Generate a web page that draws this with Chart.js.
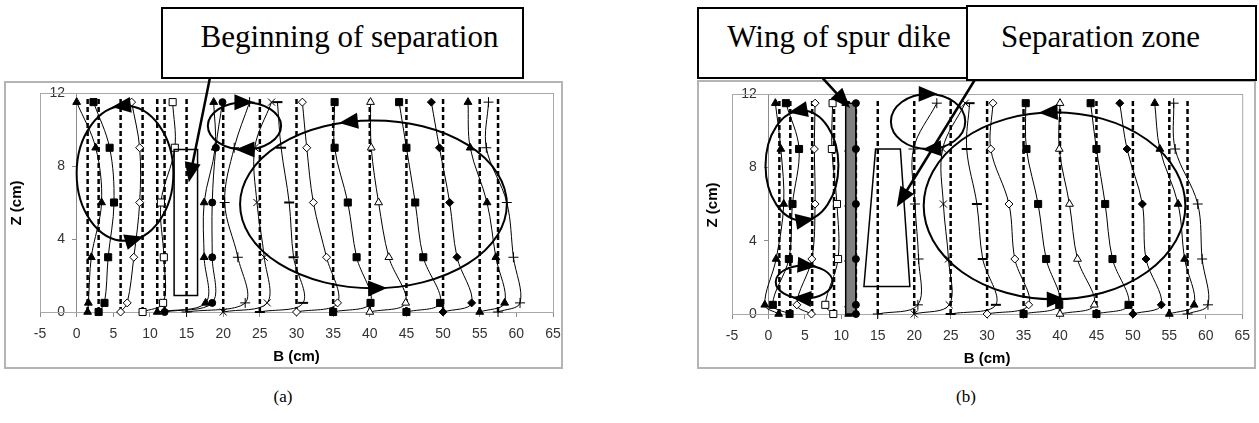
<!DOCTYPE html>
<html lang="en">
<head>
<meta charset="UTF-8">
<title>Flow pattern around the spur dike</title>
<script src="https://cdn.jsdelivr.net/npm/chart.js"></script>
<style>
  body { margin:0; width:1259px; height:423px; background:#fff; position:relative; overflow:hidden; font-family:"Liberation Sans", Arial, sans-serif; }
  .frame { position:absolute; border:2px solid #b4b4b4; box-sizing:border-box; }
  canvas.plot { position:absolute; top:0; z-index:1; }
  .note { position:absolute; background:#fff; border:2px solid #000; box-sizing:border-box; font-family:"Liberation Serif", "Times New Roman", serif; font-size:31px; display:flex; align-items:center; justify-content:center; z-index:2; white-space:nowrap; }
  .cap { position:absolute; font-family:"Liberation Serif", serif; font-size:17px; width:40px; text-align:center; }
</style>
</head>
<body>
  <div class="frame" style="left:4px; top:81px; width:559px; height:288px;"></div>
  <div class="frame" style="left:697px; top:80px; width:559px; height:289px;"></div>

  <canvas id="chartA" class="plot" width="630" height="423" style="left:0"></canvas>
  <canvas id="chartB" class="plot" width="629" height="423" style="left:630px"></canvas>

  <div class="note" style="left:161px; top:7px; width:363px; height:72px; padding:0 0 12px 14px;">Beginning of separation</div>
  <div class="note" style="left:697px; top:7px; width:272px; height:72px; padding:0 0 12px 12px;">Wing of spur dike</div>
  <div class="note" style="left:966px; top:5px; width:291px; height:76px; padding:0 22px 12px 0;">Separation zone</div>

  <div class="cap" style="left:263px; top:387px;">(a)</div>
  <div class="cap" style="left:946px; top:387px;">(b)</div>

<script>
// measuring levels (cm above the bed)
const zLevels = [0, 0.5, 3, 6, 9, 11.5];

// marker per profile, same order in both panels
const markers = ['triangle', 'rect', 'rectRot', 'rect', 'triangle', 'circle', 'cross', 'crossRot',
                 'line', 'rectRot', 'rect', 'triangle', 'rect', 'rectRot', 'triangle', 'cross'];
const filled = [true, true, false, false, true, true, true, true,
                true, false, true, false, true, true, true, true];

// (a) without wing: stations (dashed) and profile positions B at each z level
const stationsA = [1.5, 3, 6, 9, 11, 12, 15, 20, 25, 30, 35, 40, 45, 50, 55, 57.5];
const profilesA = [
  [1.5, 1.6, 2.0, 3.4, 2.6, 0],
  [3, 3.8, 4.3, 5.1, 4.5, 2.3],
  [6, 6.9, 7.8, 8.6, 8.6, 7.5],
  [9, 11.8, 11.9, 11.5, 13.4, 13.1],
  [11, 17.6, 17.4, 17.4, 18.9, 18.7],
  [12, 18.5, 18.5, 18.5, 19.0, 19.9],
  [15, 23.0, 22.0, 20.2, 21.5, 23.6],
  [20, 26.0, 25.6, 24.6, 24.3, 26.6],
  [25, 30.9, 29.6, 29.0, 27.9, 27.4],
  [30, 35.6, 34.1, 32.3, 31.4, 30.8],
  [35, 40.1, 38.2, 37.0, 35.2, 35.2],
  [40, 44.9, 42.6, 41.2, 40.2, 40.1],
  [45, 49.6, 47.3, 46.2, 45.0, 44.0],
  [50, 53.9, 51.9, 50.9, 49.5, 48.4],
  [55, 58.4, 57.2, 56.0, 53.7, 53.4],
  [57.5, 60.5, 59.6, 58.7, 55.9, 56.2]
];

// (b) with wing
const stationsB = [1.5, 3, 6, 9, 11, 12, 15, 20, 25, 30, 35, 40, 45, 50, 55, 57.5];
const profilesB = [
  [1.4, -0.5, 1.05, 2.1, 1.7, 0.95],
  [2.9, 0.6, 2.8, 3.3, 4.2, 2.4],
  [5.9, 3.9, 5.95, 6.4, 6.3, 6.4],
  [8.9, 7.8, 9.55, 9.4, 8.7, 8.8],
  [11, 11, 11, 11, 11, 10.6],
  [12, 12, 12, 12, 12, 12],
  [15, 20.5, 20.6, 20.1, 19.9, 23.1],
  [20, 24.8, 24.7, 24.0, 23.9, 27.0],
  [25, 31.2, 29.4, 28.6, 27.2, 27.6],
  [30, 35.7, 33.8, 33.0, 30.5, 30.8],
  [35, 39.9, 38.1, 37.0, 35.4, 35.3],
  [40, 44.7, 42.4, 41.3, 39.9, 40.0],
  [45, 49.4, 47.2, 46.2, 45.0, 44.2],
  [50, 53.9, 51.8, 51.3, 49.2, 48.2],
  [55, 58.4, 57.1, 56.2, 53.7, 53.0],
  [57.5, 60.3, 59.5, 58.9, 55.8, 55.6]
];

// eddies: [centre B, centre Z, half width, half height]; arrows: [eddy, angle deg, sense]
const loopsA = [[6.6, 7.6, 6.6, 3.7], [22.9, 10.2, 5.0, 1.3], [40.5, 5.9, 18.2, 4.6]];
const loopArrowsA = [[0, 95, 1], [0, 282, 1], [1, 90, -1], [1, 270, -1], [2, 101, 1], [2, 272, 1]];
const loopsB = [[4.6, 8.1, 5.0, 3.0], [4.9, 1.75, 3.9, 0.9], [21.9, 10.5, 5.1, 1.5], [39.25, 5.9, 17.95, 5.1]];
const loopArrowsB = [[0, 97, 1], [0, 276, 1], [1, 83, -1], [1, 264, -1], [2, 89, -1], [2, 275, -1], [3, 93, 1], [3, 271, 1]];

// outlines: rectangle of (a), trapezoid of (b), wing of spur dike
const boxA = [[13.3, 0.9], [13.3, 8.9], [16.5, 8.9], [16.5, 0.9]];
const trapB = [[13.1, 1.5], [14.7, 9.0], [18.1, 9.0], [19.4, 1.5]];
const wingB = [[10.6, 0], [10.6, 11.5], [12.0, 11.5], [12.0, 0]];

// callout pointers: [from B, from Z, to B, to Z]
const pointersA = [[18.68, 13.81, 15.3, 7.1]];
const pointersB = [[5.14, 13.86, 11.19, 11.24], [30.83, 14.4, 17.6, 5.84]];

const FONT = '"Liberation Sans", Arial, sans-serif';

function pointSize(m) {
  if (m === 'rect') return 5;
  if (m === 'triangle') return 4.5;
  if (m === 'circle') return 3.5;
  if (m === 'rectRot') return 4;
  return 5;
}

function buildDatasets(stations, profiles, withWing) {
  const sets = [];
  profiles.forEach((xs, i) => {
    sets.push({
      label: 'profile ' + stations[i],
      data: xs.map((x, k) => ({ x: x, y: zLevels[k] })),
      showLine: true,
      borderColor: '#000',
      borderWidth: 1,
      tension: 0.35,
      pointStyle: markers[i],
      pointRadius: pointSize(markers[i]),
      pointBackgroundColor: filled[i] ? '#000' : '#fff',
      pointBorderColor: '#000',
      pointBorderWidth: markers[i] === 'line' ? 2 : 1,
      order: (withWing && i === 4) ? 2 : 1,
      wingBefore: withWing && i === 5,
      clip: false
    });
  });
  stations.forEach(s => {
    sets.push({
      label: 'station ' + s,
      data: [{ x: s, y: 0 }, { x: s, y: 11.7 }],
      showLine: true,
      borderColor: '#000',
      borderWidth: 2.5,
      borderDash: [5, 3],
      pointRadius: 0,
      order: 3
    });
  });
  return sets;
}

function arrowHead(ctx, tx, ty, ux, uy, len, half) {
  ctx.beginPath();
  ctx.moveTo(tx, ty);
  ctx.lineTo(tx - ux * len - uy * half, ty - uy * len + ux * half);
  ctx.lineTo(tx - ux * len + uy * half, ty - uy * len - ux * half);
  ctx.closePath();
  ctx.fill();
}

function outline(chart, pts, fill) {
  const { ctx, scales: { x, y } } = chart;
  ctx.beginPath();
  pts.forEach((p, i) => {
    const px = x.getPixelForValue(p[0]), py = y.getPixelForValue(p[1]);
    if (i === 0) ctx.moveTo(px, py); else ctx.lineTo(px, py);
  });
  ctx.closePath();
  if (fill) { ctx.fillStyle = fill; ctx.fill(); }
  ctx.stroke();
}

const flowMarks = {
  id: 'flowMarks',
  beforeDatasetsDraw(chart) {
    const { ctx, chartArea: a } = chart;
    ctx.save();
    ctx.strokeStyle = '#a8a8a8';
    ctx.lineWidth = 1;
    ctx.strokeRect(a.left + 0.5, a.top + 0.5, a.right - a.left, a.bottom - a.top);
    ctx.restore();
  },
  beforeDatasetDraw(chart, args, opts) {
    const ds = chart.data.datasets[args.index];
    if (ds.wingBefore && opts.wing) {
      chart.ctx.save();
      chart.ctx.strokeStyle = '#000';
      chart.ctx.lineWidth = 1.5;
      outline(chart, opts.wing, '#7f7f7f');
      chart.ctx.restore();
    }
  },
  afterDatasetsDraw(chart, args, opts) {
    const { ctx, scales: { x, y } } = chart;
    ctx.save();
    ctx.strokeStyle = '#000';
    ctx.fillStyle = '#000';

    ctx.lineWidth = 1.5;
    (opts.shapes || []).forEach(s => outline(chart, s, null));

    ctx.lineWidth = 2;
    const loops = opts.loops || [];
    const geo = loops.map(l => {
      const cx = x.getPixelForValue(l[0]), cy = y.getPixelForValue(l[1]);
      const rx = Math.abs(x.getPixelForValue(l[0] + l[2]) - cx);
      const ry = Math.abs(y.getPixelForValue(l[1] + l[3]) - cy);
      return { cx, cy, rx, ry };
    });
    geo.forEach(g => {
      ctx.beginPath();
      ctx.ellipse(g.cx, g.cy, g.rx, g.ry, 0, 0, Math.PI * 2);
      ctx.stroke();
    });
    (opts.loopArrows || []).forEach(a => {
      const g = geo[a[0]];
      const t = a[1] * Math.PI / 180;
      const px = g.cx + g.rx * Math.cos(t), py = g.cy - g.ry * Math.sin(t);
      let ux = -g.rx * Math.sin(t) * a[2], uy = -g.ry * Math.cos(t) * a[2];
      const n = Math.hypot(ux, uy); ux /= n; uy /= n;
      arrowHead(ctx, px + ux * 9, py + uy * 9, ux, uy, 19, 8);
    });

    ctx.lineWidth = 2.5;
    (opts.pointers || []).forEach(p => {
      const x0 = x.getPixelForValue(p[0]), y0 = y.getPixelForValue(p[1]);
      const x1 = x.getPixelForValue(p[2]), y1 = y.getPixelForValue(p[3]);
      let ux = x1 - x0, uy = y1 - y0;
      const n = Math.hypot(ux, uy); ux /= n; uy /= n;
      ctx.beginPath();
      ctx.moveTo(x0, y0);
      ctx.lineTo(x1 - ux * 14, y1 - uy * 14);
      ctx.stroke();
      arrowHead(ctx, x1, y1, ux, uy, 20, 8);
    });

    if (opts.zTitle) {
      ctx.translate(opts.zTitle[0], opts.zTitle[1]);
      ctx.rotate(-Math.PI / 2);
      ctx.font = 'bold 15px ' + FONT;
      ctx.textAlign = 'center';
      ctx.textBaseline = 'middle';
      ctx.fillText('Z (cm)', 0, 0);
    }
    ctx.restore();
  }
};

function makeChart(id, stations, profiles, marks, pad) {
  return new Chart(document.getElementById(id), {
    type: 'scatter',
    data: { datasets: buildDatasets(stations, profiles, !!marks.wing) },
    plugins: [flowMarks],
    options: {
      responsive: false,
      animation: false,
      events: [],
      layout: { padding: pad },
      plugins: { legend: { display: false }, tooltip: { enabled: false }, flowMarks: marks },
      scales: {
        x: {
          type: 'linear', min: -5, max: 65, position: 'bottom',
          ticks: { stepSize: 5, color: '#333', font: { family: FONT, size: 14 }, padding: 9, maxRotation: 0, autoSkip: false },
          grid: { drawOnChartArea: false, drawTicks: true, tickLength: 5, color: '#8c8c8c' },
          border: { color: '#8c8c8c', width: 1 },
          title: { display: true, text: 'B (cm)', color: '#000', font: { family: FONT, size: 15, weight: 'bold' }, padding: 0 },
          afterFit(scale) { scale.height = 54; }
        },
        y: {
          type: 'linear', min: 0, max: 12, position: { x: 0 },
          ticks: { stepSize: 4, color: '#333', font: { family: FONT, size: 14 }, callback: v => v + '   ' },
          grid: { drawOnChartArea: false, drawTicks: true, tickLength: 4, color: '#8c8c8c' },
          border: { color: '#8c8c8c', width: 1 }
        }
      }
    }
  });
}

makeChart('chartA', stationsA, profilesA, {
  loops: loopsA, loopArrows: loopArrowsA, shapes: [boxA], pointers: pointersA, zTitle: [16.5, 203]
}, { left: 40, top: 93, right: 77, bottom: 57 });

makeChart('chartB', stationsB, profilesB, {
  loops: loopsB, loopArrows: loopArrowsB, shapes: [trapB], wing: wingB, pointers: pointersB, zTitle: [82.5, 205]
}, { left: 102, top: 94, right: 14, bottom: 55 });
</script>
</body>
</html>
